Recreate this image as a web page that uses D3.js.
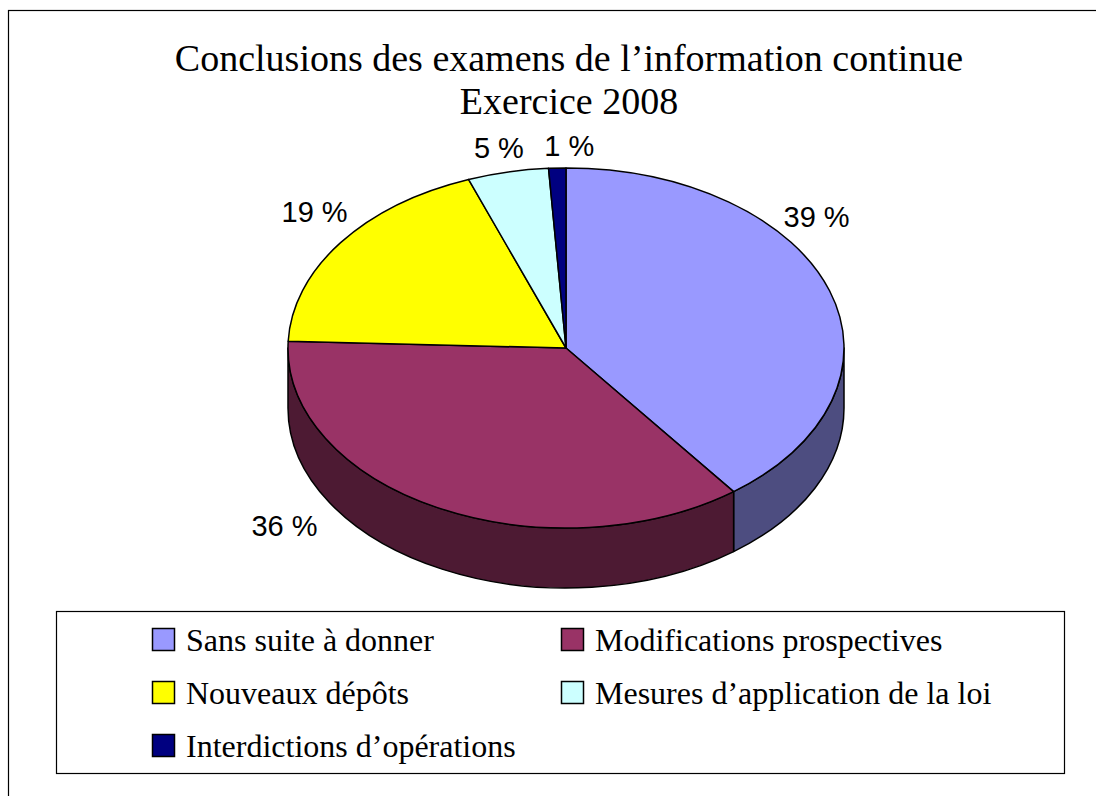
<!DOCTYPE html>
<html>
<head>
<meta charset="utf-8">
<script src="https://cdn.jsdelivr.net/npm/d3@7"></script>
<style>
  html, body { margin: 0; padding: 0; background: #fff; }
  svg { display: block; }
</style>
</head>
<body>
<svg id="chart" width="1096" height="796"></svg>
<script>
// ===== DATA =====
const categories = [
    'Sans suite à donner',
    'Modifications prospectives',
    'Nouveaux dépôts',
    'Mesures d’application de la loi',
    'Interdictions d’opérations'
];
const shares = [39.7, 35.9, 18.7, 4.7, 1.0];
const pctLabels = ['39 %', '36 %', '19 %', '5 %', '1 %'];
const titleLines = ['Conclusions des examens de l’information continue', 'Exercice 2008'];

// ===== STYLE / LAYOUT =====
const topColors  = ['#9999FF', '#993366', '#FFFF00', '#CCFFFF', '#000080'];
const sideColors = ['#4D4D80', '#4D1A33', '#808000', '#668080', '#000040'];
// nudges applied to each label from the ellipse point at the slice's mid angle
const labelNudge = [[-13, -64], [-153, 28], [-26, -21], [-9, -14], [12, -12]];

const svg = d3.select('#chart');
const cx = 566, cy = 348, rx = 278, ry = 180, depth = 60;

// Outer frame
svg.append('rect')
    .attr('x', 8.5).attr('y', 10.5)
    .attr('width', 1120).attr('height', 820)
    .attr('fill', 'none')
    .attr('stroke', '#000')
    .attr('stroke-width', 1.2);

// Title
svg.append('g').selectAll('text')
    .data(titleLines)
    .enter().append('text')
    .attr('x', 569)
    .attr('y', (d, i) => 71 + i * 43)
    .attr('text-anchor', 'middle')
    .attr('font-family', '"Liberation Serif", "Times New Roman", serif')
    .attr('font-size', 38)
    .attr('fill', '#000')
    .text(d => d);

// ===== PIE =====
const pie = d3.pie().sort(null).startAngle(0).endAngle(2 * Math.PI);
const arcs = pie(shares).map((d, i) => ({ ...d, i }));

const pt = (a, dy = 0) => [cx + rx * Math.sin(a), cy - ry * Math.cos(a) + dy];

function topPath(d) {
    const [x0, y0] = pt(d.startAngle);
    const [x1, y1] = pt(d.endAngle);
    const large = (d.endAngle - d.startAngle) > Math.PI ? 1 : 0;
    return `M${cx},${cy} L${x0},${y0} A${rx},${ry} 0 ${large} 1 ${x1},${y1} Z`;
}

function sidePath(a0, a1) {
    const [x0, y0] = pt(a0);
    const [x1, y1] = pt(a1);
    return `M${x0},${y0} A${rx},${ry} 0 0 1 ${x1},${y1} ` +
           `L${x1},${y1 + depth} A${rx},${ry} 0 0 0 ${x0},${y0 + depth} Z`;
}

// Front-facing wall pieces (angles between 90° and 270°)
const sides = arcs
    .map(d => ({
        i: d.i,
        a0: Math.max(d.startAngle, Math.PI / 2),
        a1: Math.min(d.endAngle, 3 * Math.PI / 2)
    }))
    .filter(s => s.a1 > s.a0);

svg.append('g').selectAll('path')
    .data(sides)
    .enter().append('path')
    .attr('d', s => sidePath(s.a0, s.a1))
    .attr('fill', s => sideColors[s.i])
    .attr('stroke', '#000')
    .attr('stroke-width', 1.5)
    .attr('stroke-linejoin', 'round');

svg.append('g').selectAll('path')
    .data(arcs)
    .enter().append('path')
    .attr('d', topPath)
    .attr('fill', d => topColors[d.i])
    .attr('stroke', '#000')
    .attr('stroke-width', 1.5)
    .attr('stroke-linejoin', 'round');

// Percent labels
svg.append('g').selectAll('text')
    .data(arcs)
    .enter().append('text')
    .attr('x', d => pt((d.startAngle + d.endAngle) / 2)[0] + labelNudge[d.i][0])
    .attr('y', d => pt((d.startAngle + d.endAngle) / 2)[1] + labelNudge[d.i][1])
    .attr('text-anchor', 'middle')
    .attr('font-family', '"Liberation Sans", Arial, sans-serif')
    .attr('font-size', 29)
    .attr('fill', '#000')
    .text(d => pctLabels[d.i]);

// ===== LEGEND =====
const legend = svg.append('g');
legend.append('rect')
    .attr('x', 56.5).attr('y', 611.5)
    .attr('width', 1008).attr('height', 162)
    .attr('fill', '#fff')
    .attr('stroke', '#000')
    .attr('stroke-width', 1.2);

const items = legend.selectAll('g.item')
    .data(categories)
    .enter().append('g')
    .attr('class', 'item')
    .attr('transform', (d, i) => `translate(${i % 2 ? 561 : 152},${639 + Math.floor(i / 2) * 53})`);

items.append('rect')
    .attr('x', 0.5).attr('y', -10.5)
    .attr('width', 22).attr('height', 22)
    .attr('fill', (d, i) => topColors[i])
    .attr('stroke', '#000')
    .attr('stroke-width', 1.5);

items.append('text')
    .attr('x', 34)
    .attr('y', 12)
    .attr('font-family', '"Liberation Serif", "Times New Roman", serif')
    .attr('font-size', 32)
    .attr('fill', '#000')
    .text(d => d);
</script>
</body>
</html>
